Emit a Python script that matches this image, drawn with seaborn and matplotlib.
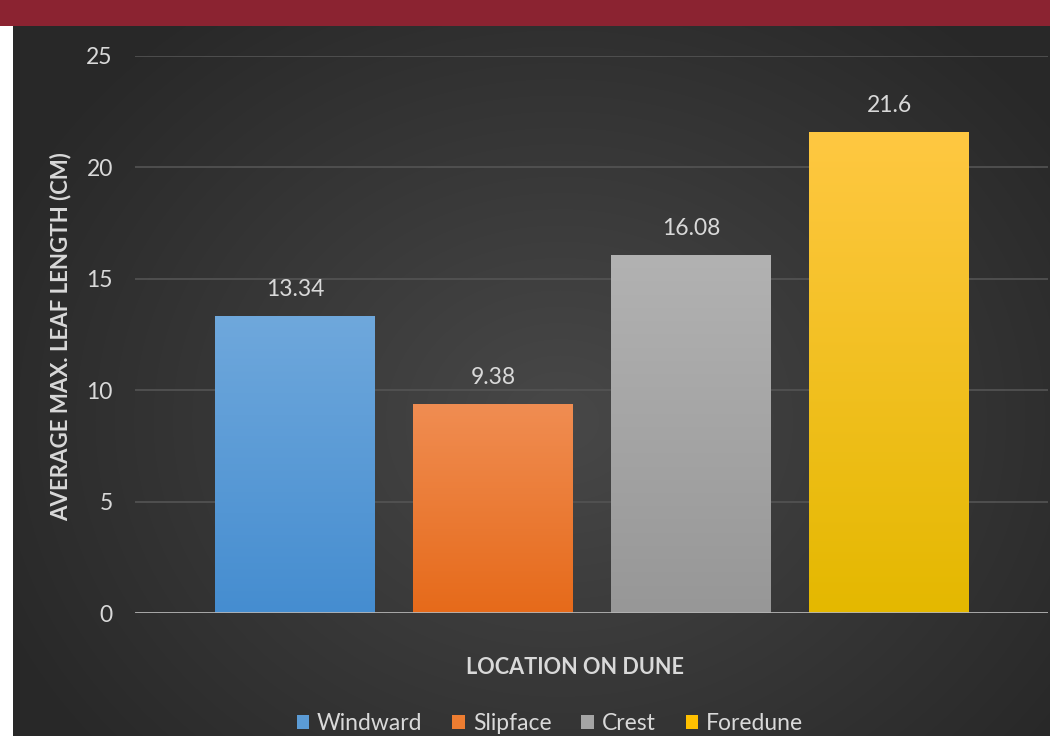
import numpy as np
import pandas as pd
import matplotlib
matplotlib.use("Agg")
import matplotlib.pyplot as plt
import matplotlib.colors as mcolors
from matplotlib.patches import Rectangle
import seaborn as sns

# ---- data ----
locations = ["Windward", "Slipface", "Crest", "Foredune"]
leaf_length = [13.34, 9.38, 16.08, 21.6]
value_labels = ["13.34", "9.38", "16.08", "21.6"]
y_ticks = [0, 5, 10, 15, 20, 25]

# ---- styles ----
top_colors = ["#6fa8dc", "#f08d52", "#b2b2b2", "#ffc842"]
bottom_colors = ["#458dd0", "#e66a1a", "#979797", "#e4b800"]
base_colors = ["#5b9bd5", "#ed7d31", "#a5a5a5", "#ffc000"]
text_color = "#d9d9d9"

sns.set_theme(style="dark")
plt.rcParams["font.family"] = ["Lato", "DejaVu Sans"]

W, H = 1050, 736
fig = plt.figure(figsize=(W / 100, H / 100), dpi=100)

# background radial gradient
bg = fig.add_axes([0, 0, 1, 1], zorder=-10)
yy, xx = np.mgrid[0:H, 0:W]
r = np.sqrt(((xx - 560) / 620.0) ** 2 + ((yy - 420) / 520.0) ** 2)
r = np.clip(r, 0, 1)
c_in = np.array([0x48, 0x48, 0x48]) / 255.0
c_out = np.array([0x28, 0x28, 0x28]) / 255.0
img = c_in[None, None, :] * (1 - r[..., None]) + c_out[None, None, :] * r[..., None]
bg.imshow(img, extent=[0, 1, 0, 1], aspect="auto", origin="upper")
bg.set_axis_off()
# red band and white strip
fig.patches.append(Rectangle((0, 1 - 26 / H), 1, 26 / H, transform=fig.transFigure,
                             facecolor="#8b2331", edgecolor="none", zorder=5))
fig.patches.append(Rectangle((0, 0), 13 / W, 1 - 26 / H, transform=fig.transFigure,
                             facecolor="white", edgecolor="none", zorder=5))

ax = fig.add_axes([135 / W, 1 - 613 / H, (1048 - 135) / W, (613 - 56) / H])
ax.set_facecolor("none")

df = pd.DataFrame({"Location": locations, "Length": leaf_length})
sns.barplot(data=df, x="Location", y="Length", hue="Location", palette=base_colors,
            saturation=1, width=0.808, ax=ax, legend=True, zorder=3, linewidth=0,
            edgecolor="none")

# gradient fill for each bar
for i, p in enumerate(ax.patches[:len(locations)]):
    x0, y0 = p.get_x(), p.get_y()
    w, h = p.get_width(), p.get_height()
    c1 = np.array(mcolors.to_rgb(top_colors[i]))
    c2 = np.array(mcolors.to_rgb(bottom_colors[i]))
    t = np.linspace(0, 1, 256)[:, None]
    grad = (c1 * (1 - t) + c2 * t)[:, None, :]
    im = ax.imshow(grad, extent=[x0, x0 + w, y0, y0 + h], aspect="auto",
                   origin="upper", zorder=4)
    im.set_clip_path(p)

ax.set_xlim(-0.808, 3.803)
ax.set_ylim(0, 25)
ax.set_yticks(y_ticks)
ax.set_yticklabels([str(v) for v in y_ticks], color=text_color, fontsize=16.5)
ax.set_xticks([])
ax.tick_params(axis="y", length=0, pad=16)
ax.grid(False)
for yv in y_ticks[1:]:
    ax.axhline(yv, color="#545454", linewidth=1.2, zorder=1)
ax.axhline(0, color="#b4b4b4", linewidth=2, zorder=6)
for s in ax.spines.values():
    s.set_visible(False)

for i, v in enumerate(leaf_length):
    ax.annotate(value_labels[i], (i, v), xytext=(0, 14.5), textcoords="offset points",
                ha="center", va="baseline", color=text_color, fontsize=16.5)

ax.set_ylabel("")
ax.set_xlabel("")
fig.text(61 / W, 1 - 337 / H, "AVERAGE MAX. LEAF LENGTH (CM)", color=text_color,
         fontsize=16, fontweight="bold", rotation=90, ha="center", va="center")
fig.text(575 / W, 1 - 668 / H, "LOCATION ON DUNE", color=text_color, fontsize=15.6,
         fontweight="bold", ha="center", va="center")

handles, labels = ax.get_legend_handles_labels()
for hd in handles:
    hd.set_edgecolor("none")
    hd.set_linewidth(0)
ax.legend(handles, labels, loc="center", bbox_to_anchor=(550 / W, 1 - 724 / H),
          bbox_transform=fig.transFigure, ncol=4, frameon=False, fontsize=16.5,
          labelcolor=text_color, handlelength=0.55, handleheight=0.55,
          handletextpad=0.35, columnspacing=1.3, borderpad=0, borderaxespad=0)

fig.savefig("out.png", dpi=100)
